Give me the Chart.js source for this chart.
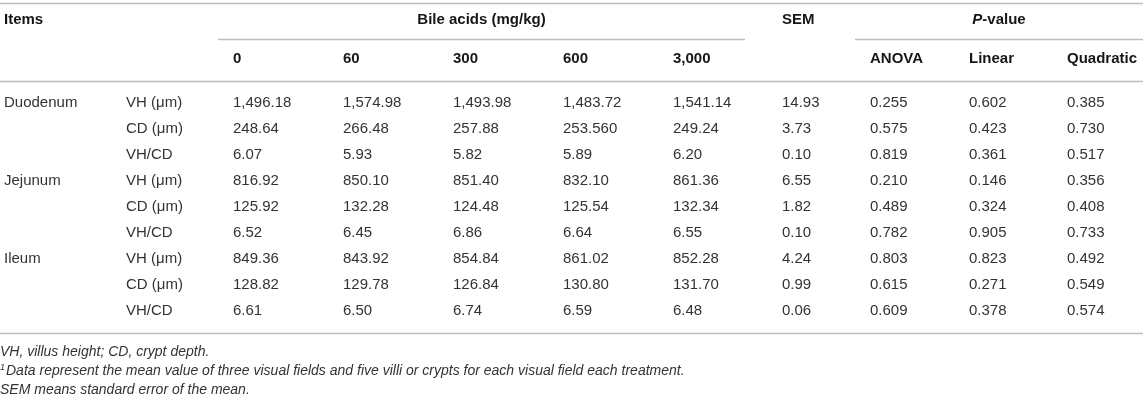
<!DOCTYPE html>
<html>
<head>
<meta charset="utf-8">
<script src="https://cdn.jsdelivr.net/npm/chart.js@4.4.1/dist/chart.umd.min.js"></script>
<style>
  body { margin: 0; background: #fff; }
  #wrap { width: 1143px; height: 400px; }
</style>
</head>
<body>
<div id="wrap"><canvas id="table-chart" width="1143" height="400"></canvas></div>
<script>
// table content
const segments = ['Duodenum', '', '', 'Jejunum', '', '', 'Ileum', '', ''];
const measures = ['VH (μm)', 'CD (μm)', 'VH/CD', 'VH (μm)', 'CD (μm)', 'VH/CD', 'VH (μm)', 'CD (μm)', 'VH/CD'];
const doses = ['0', '60', '300', '600', '3,000'];
const pHeads = ['ANOVA', 'Linear', 'Quadratic'];

const dose0    = ['1,496.18', '248.64', '6.07', '816.92', '125.92', '6.52', '849.36', '128.82', '6.61'];
const dose60   = ['1,574.98', '266.48', '5.93', '850.10', '132.28', '6.45', '843.92', '129.78', '6.50'];
const dose300  = ['1,493.98', '257.88', '5.82', '851.40', '124.48', '6.86', '854.84', '126.84', '6.74'];
const dose600  = ['1,483.72', '253.560', '5.89', '832.10', '125.54', '6.64', '861.02', '130.80', '6.59'];
const dose3000 = ['1,541.14', '249.24', '6.20', '861.36', '132.34', '6.55', '852.28', '131.70', '6.48'];
const sem      = ['14.93', '3.73', '0.10', '6.55', '1.82', '0.10', '4.24', '0.99', '0.06'];
const pAnova   = ['0.255', '0.575', '0.819', '0.210', '0.489', '0.782', '0.803', '0.615', '0.609'];
const pLinear  = ['0.602', '0.423', '0.361', '0.146', '0.324', '0.905', '0.823', '0.271', '0.378'];
const pQuad    = ['0.385', '0.730', '0.517', '0.356', '0.408', '0.733', '0.492', '0.549', '0.574'];

const notes = [
  'VH, villus height; CD, crypt depth.',
  'Data represent the mean value of three visual fields and five villi or crypts for each visual field each treatment.',
  'SEM means standard error of the mean.'
];

// layout (x in canvas units, y in row units)
const colX = [4, 126, 233, 343, 453, 563, 673, 782, 870, 969, 1067];
const ROW_H = 26;
const FIRST_ROW = 103;
const rowOf = px => (px - FIRST_ROW) / ROW_H;

const columns = [segments, measures, dose0, dose60, dose300, dose600, dose3000, sem, pAnova, pLinear, pQuad];

const TEXT = '#333333';
const HEAD = '#161616';
const RULE = '#bdbdbd';
const FONT = '"Liberation Sans", Arial, Helvetica, sans-serif';

// one invisible point per cell, so every cell is placed by the chart's scales
const datasets = columns.map((col, c) => ({
  label: 'col' + c,
  data: col.map((v, r) => ({ x: colX[c], y: r, text: v })),
  pointRadius: 0,
  showLine: false
}));

const tablePlugin = {
  id: 'tableText',
  afterDatasetsDraw(chart) {
    const { ctx, scales: { x, y } } = chart;
    const X = v => x.getPixelForValue(v);
    const Y = v => y.getPixelForValue(v);

    ctx.save();
    ctx.textBaseline = 'middle';
    ctx.textAlign = 'left';

    // rules
    const rule = (x0, x1, py) => {
      const yy = Math.round(Y(rowOf(py))) + 0.5;
      ctx.beginPath();
      ctx.strokeStyle = RULE;
      ctx.lineWidth = 1.6;
      ctx.moveTo(X(x0), yy);
      ctx.lineTo(X(x1), yy);
      ctx.stroke();
    };
    rule(0, 1143, 2.5);
    rule(218, 745, 39);
    rule(855, 1143, 39);
    rule(0, 1143, 81);
    rule(0, 1143, 333);

    // header
    const BOLD = 'bold 15px ' + FONT;
    const BOLD_IT = 'italic bold 15px ' + FONT;
    ctx.fillStyle = HEAD;
    ctx.font = BOLD;
    const h1 = Y(rowOf(20));
    const h2 = Y(rowOf(59));
    ctx.fillText('Items', X(colX[0]), h1);
    ctx.textAlign = 'center';
    ctx.fillText('Bile acids (mg/kg)', X((218 + 745) / 2), h1);
    ctx.textAlign = 'left';
    ctx.fillText('SEM', X(colX[7]), h1);

    // P-value with italic P
    ctx.font = BOLD_IT;
    const wP = ctx.measureText('P').width;
    ctx.font = BOLD;
    const wRest = ctx.measureText('-value').width;
    const pStart = X((855 + 1143) / 2) - (wP + wRest) / 2;
    ctx.font = BOLD_IT;
    ctx.fillText('P', pStart, h1);
    ctx.font = BOLD;
    ctx.fillText('-value', pStart + wP, h1);

    doses.forEach((d, i) => ctx.fillText(d, X(colX[2 + i]), h2));
    pHeads.forEach((d, i) => ctx.fillText(d, X(colX[8 + i]), h2));

    // body cells
    ctx.fillStyle = TEXT;
    ctx.font = '15px ' + FONT;
    chart.data.datasets.forEach((ds, i) => {
      const meta = chart.getDatasetMeta(i);
      meta.data.forEach((pt, j) => {
        const t = ds.data[j].text;
        if (t) ctx.fillText(t, pt.x, pt.y);
      });
    });

    // footnotes
    const NOTE = 'italic 14px ' + FONT;
    const fy = [352, 371, 390];
    ctx.font = NOTE;
    ctx.fillText(notes[0], X(0), Y(rowOf(fy[0])));
    ctx.font = 'italic 9px ' + FONT;
    ctx.fillText('1', X(0), Y(rowOf(fy[1])) - 4);
    const wSup = ctx.measureText('1').width;
    ctx.font = NOTE;
    ctx.fillText(notes[1], X(0) + wSup + 1, Y(rowOf(fy[1])));
    ctx.fillText(notes[2], X(0), Y(rowOf(fy[2])));

    ctx.restore();
  }
};

new Chart(document.getElementById('table-chart'), {
  type: 'scatter',
  data: { datasets },
  options: {
    responsive: false,
    animation: false,
    layout: { padding: 0 },
    plugins: {
      legend: { display: false },
      tooltip: { enabled: false }
    },
    scales: {
      x: { type: 'linear', min: 0, max: 1143, display: false },
      y: { type: 'linear', min: rowOf(0), max: rowOf(400), reverse: true, display: false }
    }
  },
  plugins: [tablePlugin]
});
</script>
</body>
</html>
